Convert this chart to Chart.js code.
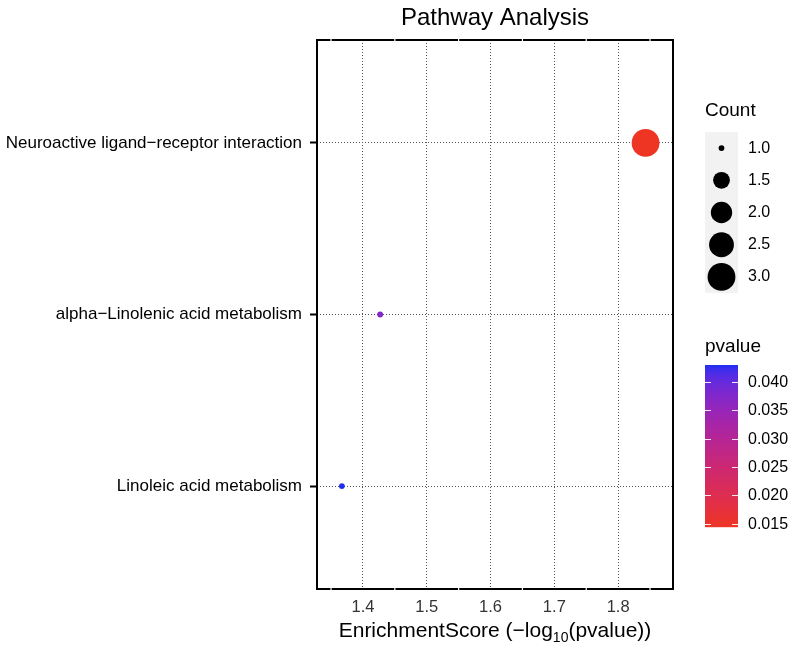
<!DOCTYPE html>
<html>
<head>
<meta charset="utf-8">
<script src="https://cdn.jsdelivr.net/npm/chart.js@4/dist/chart.umd.min.js"></script>
<style>
  html, body { margin: 0; padding: 0; background: #fff; }
  #chart { display: block; }
</style>
</head>
<body>
<canvas id="chart" width="794" height="645"></canvas>
<script>
// ===============================
// DATOS
// ===============================
const pathways = ["Linoleic acid metabolism", "alpha\u2212Linolenic acid metabolism", "Neuroactive ligand\u2212receptor interaction"];
const enrichment = [1.367, 1.427, 1.843];
const pvalues = [0.0430, 0.0374, 0.0144];
const counts = [1, 1, 3];

const xTicks = [1.4, 1.5, 1.6, 1.7, 1.8];
const countBreaks = [1.0, 1.5, 2.0, 2.5, 3.0];
const pvalueBreaks = [0.040, 0.035, 0.030, 0.025, 0.020, 0.015];

const FONT = '"Liberation Sans", Arial, sans-serif';
const LOW_COLOR = "#ee3524";   // p pequeño
const HIGH_COLOR = "#1e2ef2";  // p grande

// ===============================
// COLOR (interpolación en Lab, como ggplot)
// ===============================
function hexToRgb(h) {
  return [parseInt(h.slice(1, 3), 16), parseInt(h.slice(3, 5), 16), parseInt(h.slice(5, 7), 16)];
}
function toLin(c) { c /= 255; return c <= 0.04045 ? c / 12.92 : Math.pow((c + 0.055) / 1.055, 2.4); }
function fromLin(c) { const v = c <= 0.0031308 ? 12.92 * c : 1.055 * Math.pow(c, 1 / 2.4) - 0.055; return Math.max(0, Math.min(255, Math.round(v * 255))); }
const WP = [0.95047, 1, 1.08883];
function rgbToLab(rgb) {
  const [r, g, b] = rgb.map(toLin);
  const X = (0.4124 * r + 0.3576 * g + 0.1805 * b) / WP[0];
  const Y = (0.2126 * r + 0.7152 * g + 0.0722 * b) / WP[1];
  const Z = (0.0193 * r + 0.1192 * g + 0.9505 * b) / WP[2];
  const f = t => t > 0.008856 ? Math.cbrt(t) : 7.787 * t + 16 / 116;
  return [116 * f(Y) - 16, 500 * (f(X) - f(Y)), 200 * (f(Y) - f(Z))];
}
function labToRgb(lab) {
  const fy = (lab[0] + 16) / 116, fx = fy + lab[1] / 500, fz = fy - lab[2] / 200;
  const inv = t => t * t * t > 0.008856 ? t * t * t : (t - 16 / 116) / 7.787;
  const X = inv(fx) * WP[0], Y = inv(fy) * WP[1], Z = inv(fz) * WP[2];
  const r = 3.2406 * X - 1.5372 * Y - 0.4986 * Z;
  const g = -0.9689 * X + 1.8758 * Y + 0.0415 * Z;
  const b = 0.0557 * X - 0.2040 * Y + 1.0570 * Z;
  return [fromLin(r), fromLin(g), fromLin(b)];
}
const labLow = rgbToLab(hexToRgb(LOW_COLOR));
const labHigh = rgbToLab(hexToRgb(HIGH_COLOR));
const pMin = Math.min(...pvalues);
const pMax = Math.max(...pvalues);

function colorFor(p) {
  const t = Math.max(0, Math.min(1, (p - pMin) / (pMax - pMin)));
  const lab = labLow.map((v, i) => v + (labHigh[i] - v) * t);
  const rgb = labToRgb(lab);
  return `rgb(${rgb[0]}, ${rgb[1]}, ${rgb[2]})`;
}

// Tamaño (escala de área, rango como ggplot)
const cMin = Math.min(...counts), cMax = Math.max(...counts);
function radiusFor(c) {
  return 2.9 + 11 * Math.sqrt((c - cMin) / (cMax - cMin));
}

// ===============================
// PLUGIN: marco, título, leyendas
// ===============================
const extras = {
  id: "extras",
  afterDatasetsDraw(chart) {
    const { ctx, chartArea: a, scales } = chart;
    ctx.save();

    // marco del panel
    ctx.strokeStyle = "#000";
    ctx.lineWidth = 2;
    ctx.strokeRect(a.left, a.top, a.right - a.left, a.bottom - a.top);

    // cortes blancos en los bordes (rejilla menor)
    ctx.strokeStyle = "#fff";
    ctx.lineWidth = 1.2;
    for (let v = xTicks[0] - 0.05; v < scales.x.max; v += 0.1) {
      const px = scales.x.getPixelForValue(v);
      if (px <= a.left + 2 || px >= a.right - 2) continue;
      ctx.beginPath();
      ctx.moveTo(px, a.top - 1.5); ctx.lineTo(px, a.top + 1.5);
      ctx.moveTo(px, a.bottom - 1.5); ctx.lineTo(px, a.bottom + 1.5);
      ctx.stroke();
    }

    const cx = (a.left + a.right) / 2;

    // título
    ctx.fillStyle = "#000";
    ctx.font = `24px ${FONT}`;
    ctx.textAlign = "center";
    ctx.textBaseline = "middle";
    ctx.fillText("Pathway Analysis", cx, 18);

    // título del eje x con subíndice
    const big = `21px ${FONT}`, small = `14px ${FONT}`;
    const parts = [["EnrichmentScore (\u2212log", big, 0], ["10", small, 5], ["(pvalue))", big, 0]];
    let total = 0;
    parts.forEach(p => { ctx.font = p[1]; total += ctx.measureText(p[0]).width; });
    let x = cx - total / 2;
    ctx.textAlign = "left";
    ctx.textBaseline = "alphabetic";
    ctx.fillStyle = "#000";
    parts.forEach(p => {
      ctx.font = p[1];
      ctx.fillText(p[0], x, 637 + p[2]);
      x += ctx.measureText(p[0]).width;
    });

    // leyenda Count
    const lx = 705, lw = 33;
    ctx.font = `19px ${FONT}`;
    ctx.textBaseline = "middle";
    ctx.fillText("Count", lx, 111);
    const keyTop = 132, keyH = 32.2;
    ctx.fillStyle = "#f2f2f2";
    ctx.fillRect(lx, keyTop, lw, keyH * countBreaks.length);
    countBreaks.forEach((c, i) => {
      const cy = keyTop + keyH * (i + 0.5);
      ctx.fillStyle = "#000";
      ctx.beginPath();
      ctx.arc(lx + lw / 2, cy, radiusFor(c), 0, Math.PI * 2);
      ctx.fill();
      ctx.font = `16px ${FONT}`;
      ctx.fillText(c.toFixed(1), 748, cy);
    });

    // leyenda pvalue (barra de color)
    ctx.font = `19px ${FONT}`;
    ctx.fillStyle = "#000";
    ctx.fillText("pvalue", lx, 347);
    const barTop = 365, barBot = 527;
    const yFor = p => barBot - (p - pMin) / (pMax - pMin) * (barBot - barTop);
    for (let y = barTop; y < barBot; y++) {
      const p = pMax - (y + 0.5 - barTop) / (barBot - barTop) * (pMax - pMin);
      ctx.fillStyle = colorFor(p);
      ctx.fillRect(lx, y, lw, 1.2);
    }
    ctx.strokeStyle = "rgba(255,255,255,0.9)";
    ctx.lineWidth = 1;
    pvalueBreaks.forEach(p => {
      const y = Math.round(yFor(p)) + 0.5;
      ctx.beginPath();
      ctx.moveTo(lx, y); ctx.lineTo(lx + 6, y);
      ctx.moveTo(lx + lw - 6, y); ctx.lineTo(lx + lw, y);
      ctx.stroke();
      ctx.fillStyle = "#000";
      ctx.font = `16px ${FONT}`;
      ctx.fillText(p.toFixed(3), 748, y);
    });

    ctx.restore();
  }
};

// ===============================
// GRÁFICA
// ===============================
const puntos = pathways.map((name, i) => ({
  x: enrichment[i],
  y: i + 1,
  r: radiusFor(counts[i])
}));

new Chart(document.getElementById("chart"), {
  type: "bubble",
  data: {
    datasets: [{
      label: "Pathways",
      data: puntos,
      backgroundColor: pvalues.map(colorFor),
      borderColor: pvalues.map(colorFor),
      borderWidth: 0
    }]
  },
  options: {
    responsive: false,
    animation: false,
    layout: { padding: { top: 40, right: 121, left: 0, bottom: 0 } },
    plugins: {
      legend: { display: false },
      tooltip: { enabled: false },
      title: { display: false }
    },
    scales: {
      x: {
        type: "linear",
        min: 1.328,
        max: 1.886,
        afterBuildTicks: s => { s.ticks = xTicks.map(v => ({ value: v })); },
        afterFit: s => { s.height = 56; },
        ticks: {
          color: "#333",
          font: { family: FONT, size: 16.5 },
          padding: 9,
          maxRotation: 0,
          callback: v => v.toFixed(1)
        },
        grid: {
          color: "#555",
          lineWidth: 1,
          drawTicks: false
        },
        border: { display: false, dash: [1, 2] }
      },
      y: {
        type: "linear",
        min: 0.4,
        max: 3.6,
        afterBuildTicks: s => { s.ticks = pathways.map((p, i) => ({ value: i + 1 })); },
        afterFit: s => { s.width = 317; },
        ticks: {
          color: "#000",
          font: { family: FONT, size: 17 },
          padding: 8,
          callback: v => pathways[v - 1]
        },
        grid: {
          color: "#555",
          lineWidth: 1,
          drawTicks: true,
          tickLength: 7,
          tickColor: "#000",
          tickWidth: 2,
          tickBorderDash: []
        },
        border: { display: false, dash: [1, 2] }
      }
    }
  },
  plugins: [extras]
});
</script>
</body>
</html>
